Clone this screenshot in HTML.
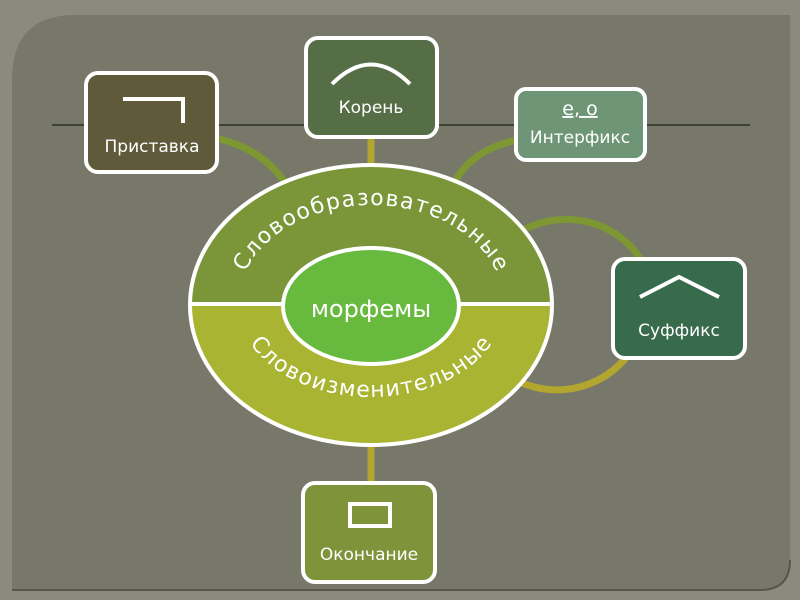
<!DOCTYPE html>
<html><head><meta charset="utf-8"><style>
html,body{margin:0;padding:0;background:#8a8a7c;}
svg{display:block;}
text{font-family:"DejaVu Sans","Liberation Sans",sans-serif;fill:#fff;}
</style></head><body>
<svg width="800" height="600" viewBox="0 0 800 600" xmlns="http://www.w3.org/2000/svg">
<rect x="0" y="0" width="800" height="600" fill="#8b8b7d"/>
<path d="M75 15 H790 V560 Q790 590 760 590 H12 V80 Q12 15 75 15 Z" fill="#78786a"/>
<path d="M12 590 H760 Q790 590 790 560" fill="none" stroke="#55554a" stroke-width="2"/>
<line x1="52" y1="125" x2="750" y2="125" stroke="#2a3020" stroke-width="1.5"/>
<line x1="371" y1="135" x2="371" y2="170" stroke="#b3a62e" stroke-width="7"/>
<line x1="371" y1="445" x2="371" y2="485" stroke="#b3a62e" stroke-width="7"/>
<path d="M215 138 Q270 150 292 195" fill="none" stroke="#7d9832" stroke-width="7"/>
<path d="M517 140 Q470 150 453 185" fill="none" stroke="#7d9832" stroke-width="7"/>
<path d="M520 232 A 88 85 0 0 1 640 258" fill="none" stroke="#7d9832" stroke-width="7"/>
<path d="M628 355 A 88 85 0 0 1 520 382" fill="none" stroke="#b3a62e" stroke-width="7"/>
<path d="M190 305 A181 140 0 0 1 552 305 Z" fill="#7a9638"/>
<path d="M190 305 A181 140 0 0 0 552 305 Z" fill="#a8b432"/>
<ellipse cx="371" cy="305" rx="181" ry="140" fill="none" stroke="#fff" stroke-width="4"/>
<line x1="190" y1="304" x2="552" y2="304" stroke="#fff" stroke-width="4"/>
<ellipse cx="371" cy="306" rx="88" ry="58" fill="#68ba3e" stroke="#fff" stroke-width="4"/>
<text x="371" y="317" font-size="24" text-anchor="middle">морфемы</text>
<defs>
<path id="tp" d="M238 305 A133 100 0 0 1 504 305"/>
<path id="bp" d="M238 305 A133 92 0 0 0 504 305"/>
</defs>
<text font-size="22"><textPath href="#tp" startOffset="50%" text-anchor="middle" textLength="300" lengthAdjust="spacing">Словообразовательные</textPath></text>
<text font-size="22"><textPath href="#bp" startOffset="50%" text-anchor="middle" textLength="275" lengthAdjust="spacing">Словоизменительные</textPath></text>
<g stroke="#fff" stroke-width="4">
<rect x="86" y="73" width="131" height="99" rx="12" fill="#5e5a3a"/>
<rect x="306" y="38" width="131" height="99" rx="12" fill="#566e46"/>
<rect x="516" y="89" width="129" height="71" rx="10" fill="#6e9676"/>
<rect x="613" y="259" width="132" height="99" rx="12" fill="#386a4c"/>
<rect x="303" y="483" width="132" height="99" rx="12" fill="#7f943a"/>
</g>
<path d="M123 99 H183 V123" fill="none" stroke="#fff" stroke-width="4"/>
<path d="M332 84 Q371 45 410 84" fill="none" stroke="#fff" stroke-width="4"/>
<path d="M640 297 L679 277 L719 297" fill="none" stroke="#fff" stroke-width="4"/>
<rect x="350" y="504" width="40" height="22" fill="none" stroke="#fff" stroke-width="4"/>
<text x="152" y="152" font-size="17" text-anchor="middle">Приставка</text>
<text x="371" y="113" font-size="17" text-anchor="middle">Корень</text>
<text x="580" y="115" font-size="19" text-anchor="middle" text-decoration="underline">е, о</text>
<text x="580" y="143" font-size="17" text-anchor="middle">Интерфикс</text>
<text x="679" y="336" font-size="17" text-anchor="middle">Суффикс</text>
<text x="369" y="560" font-size="17" text-anchor="middle">Окончание</text>
</svg>
</body></html>
